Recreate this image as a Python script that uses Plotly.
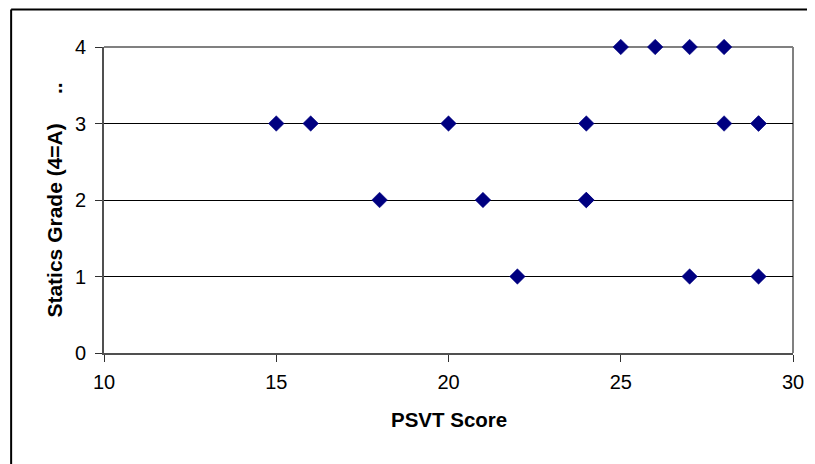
import plotly.graph_objects as go

psvt_score = [15, 16, 18, 20, 21, 22, 24, 24, 24, 25, 26, 27, 27, 28, 28, 29, 29, 29]
statics_grade = [3, 3, 2, 3, 2, 1, 3, 2, 2, 4, 4, 4, 1, 4, 3, 3, 3, 1]
x_ticks = [10, 15, 20, 25, 30]
y_ticks = [0, 1, 2, 3, 4]

FONT = "Liberation Sans, Arial, sans-serif"
OFF = 8  # page body margin offset
W, H = 815 - OFF, 464 - OFF
# plot area in page pixel coordinates
PL, PR, PT, PB = 103.5, 793.5, 46.5, 353.5
L, R, T, B = PL - OFF, PR - OFF, PT - OFF, PB - OFF

def px_x(p):
    return (p - OFF - L) / (R - L)

def px_y(p):
    return (B - (p - OFF)) / (B - T)

fig = go.Figure()
fig.add_trace(go.Scatter(
    x=psvt_score, y=statics_grade, mode="markers",
    marker=dict(symbol="diamond", size=12, color="#000080",
                line=dict(color="#000080", width=0.5)),
    showlegend=False, cliponaxis=False,
))

fig.update_layout(
    width=W, height=H,
    margin=dict(l=L, r=W - R, t=T, b=H - B, pad=0),
    paper_bgcolor="white", plot_bgcolor="white",
    font=dict(family=FONT, size=20, color="black"),
    xaxis=dict(range=[10, 30], tickvals=x_ticks, showgrid=False, zeroline=False,
               showline=True, linecolor="#505050", linewidth=2,
               ticks="outside", ticklen=7, tickwidth=1, tickcolor="#303030",
               ticklabelstandoff=3,
               tickfont=dict(family=FONT, size=20, color="black")),
    yaxis=dict(range=[0, 4], tickvals=y_ticks, showgrid=True, gridcolor="black",
               gridwidth=1, zeroline=False,
               showline=True, linecolor="#505050", linewidth=2,
               ticks="outside", ticklen=7, tickwidth=1, tickcolor="#303030",
               ticklabelstandoff=5,
               tickfont=dict(family=FONT, size=20, color="black")),
    shapes=[
        dict(type="line", xref="paper", yref="paper", x0=0, x1=1, y0=1, y1=1,
             line=dict(color="#808080", width=2), layer="between"),
        dict(type="line", xref="paper", yref="paper", x0=1, x1=1, y0=0, y1=1,
             line=dict(color="#808080", width=2), layer="between"),
        dict(type="line", xref="paper", yref="paper",
             x0=px_x(10.5), x1=px_x(10.5), y0=px_y(9), y1=px_y(480),
             line=dict(color="black", width=2)),
        dict(type="line", xref="paper", yref="paper",
             x0=px_x(10.5), x1=px_x(830), y0=px_y(9), y1=px_y(9),
             line=dict(color="black", width=2)),
    ],
    annotations=[
        dict(text="<b>PSVT Score</b>", xref="paper", yref="paper",
             x=0.5, y=px_y(420), xanchor="center", yanchor="middle",
             showarrow=False, font=dict(family=FONT, size=20.5, color="black")),
        dict(text="<b>Statics Grade (4=A)\u00a0\u00a0\u00a0\u00a0 ..</b>", xref="paper", yref="paper",
             x=px_x(53), y=px_y(200), xanchor="center", yanchor="middle",
             textangle=-90, showarrow=False,
             font=dict(family=FONT, size=21, color="black")),
    ],
)

fig.write_html("out.html")
